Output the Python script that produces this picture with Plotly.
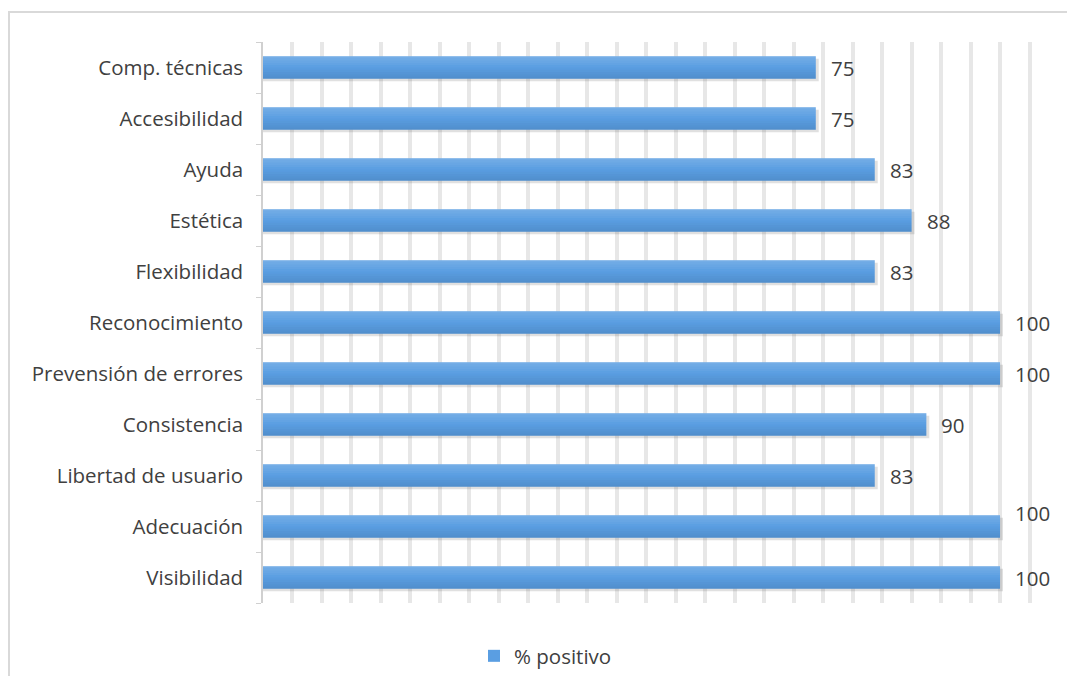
import plotly.graph_objects as go

categories = ["Visibilidad", "Adecuación", "Libertad de usuario", "Consistencia",
              "Prevensión de errores", "Reconocimiento", "Flexibilidad", "Estética",
              "Ayuda", "Accesibilidad", "Comp. técnicas"]
values = [100, 100, 83, 90, 100, 100, 83, 88, 83, 75, 75]
series_name = "% positivo"

FONT = "Open Sans, sans-serif"
TXT = "#404040"
BAR = "#5a9ee2"
FS = 20.5

OFF = 8  # page body margin
# plot area in page pixels (as in reference)
L, R, T, B = 263, 1059, 42, 603
W, H = 1075 - 2 * OFF, 684 - 2 * OFF
L, R, T, B = L - OFF, R - OFF, T - OFF, B - OFF

BW = 0.44
fig = go.Figure()
# soft shadow under each bar
fig.add_trace(go.Bar(
    y=categories, x=[v + 0.4 for v in values], orientation="h",
    marker=dict(color="rgba(60,60,60,0.16)", line=dict(width=0)),
    width=BW, offset=-BW / 2 - 0.05, showlegend=False, hoverinfo="skip",
))
fig.add_trace(go.Bar(
    y=categories, x=values, orientation="h", name=series_name,
    marker=dict(color=BAR, line=dict(width=0)),
    width=BW, offset=-BW / 2,
))
# thin bands to mimic the vertical gradient (light on top, darker at bottom)
NB = 10
for i in range(NB):
    t = i / (NB - 1)
    a = 0.16 * (1 - 2 * t) if t < 0.5 else 0.09 * (2 * t - 1)
    col = f"rgba(255,255,255,{a:.3f})" if t < 0.5 else f"rgba(0,0,0,{a:.3f})"
    fig.add_trace(go.Bar(
        y=categories, x=values, orientation="h",
        marker=dict(color=col, line=dict(width=0)),
        width=BW / NB, offset=BW / 2 - (i + 1) * BW / NB,
        showlegend=False, hoverinfo="skip",
    ))

label_yshift = {"Adecuación": 14}
for c, v in zip(categories, values):
    fig.add_annotation(x=v, y=c, text=str(v), showarrow=False,
                       xanchor="left", yanchor="middle", xshift=13,
                       yshift=label_yshift.get(c, 0),
                       font=dict(size=FS, color=TXT, family=FONT))

pw, ph = R - L, B - T
fig.add_shape(type="rect", xref="paper", yref="paper",
              x0=(9 - OFF - L) / pw, x1=(1090 - L) / pw,
              y0=(B - 700) / ph, y1=(B - (12 - OFF)) / ph,
              line=dict(color="#d9d9d9", width=2), fillcolor="rgba(0,0,0,0)",
              layer="below")

fig.update_layout(
    width=W, height=H,
    margin=dict(l=L, r=W - R, t=T, b=H - B, autoexpand=False),
    paper_bgcolor="white", plot_bgcolor="white",
    font=dict(family=FONT, size=FS, color=TXT),
    barmode="overlay",
    showlegend=True,
    legend=dict(orientation="h", x=(474 - OFF - L) / pw, xanchor="left",
                y=(B - (656 - OFF)) / ph, yanchor="middle",
                font=dict(size=FS, color=TXT, family=FONT)),
    xaxis=dict(range=[0, 108], dtick=4, tick0=0, showticklabels=False,
               showgrid=True, gridcolor="#e7e7e7", gridwidth=3.5,
               zeroline=False, showline=False, fixedrange=True),
    yaxis=dict(showline=True, linecolor="#d0d0d0", linewidth=1.5,
               ticks="outside", ticklen=5, tickcolor="#d0d0d0",
               tickson="boundaries", ticklabelstandoff=14,
               showgrid=False, tickfont=dict(size=FS, color=TXT, family=FONT)),
)

fig.write_html("out.html")
